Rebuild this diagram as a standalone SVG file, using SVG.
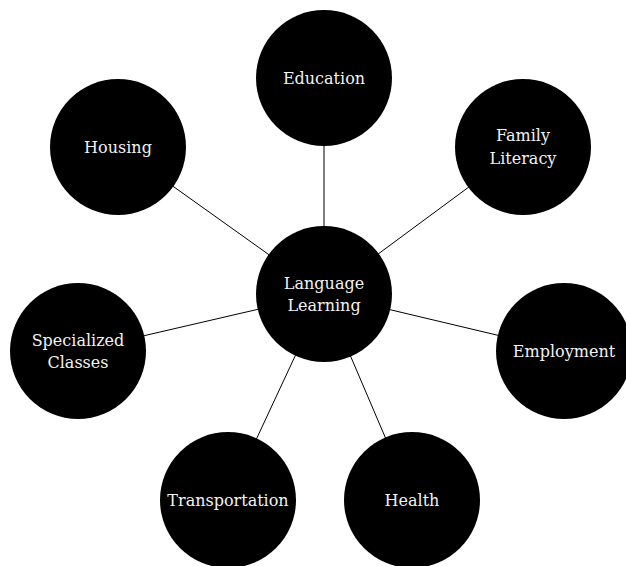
<svg xmlns="http://www.w3.org/2000/svg" width="626" height="566" viewBox="0 0 626 566">
<style>
.n{fill:#000}
.t{fill:#f2f2f2;font-family:"DejaVu Serif","Liberation Serif",serif;font-size:16px;text-anchor:middle}
.c line{stroke:#000;stroke-width:1}
</style>
<rect width="626" height="566" fill="#fff"/>
<g class="c" id="connectors">
<line x1="324" y1="294" x2="324" y2="78"/>
<line x1="324" y1="294" x2="523" y2="147"/>
<line x1="324" y1="294" x2="118" y2="147"/>
<line x1="324" y1="294" x2="78" y2="351"/>
<line x1="324" y1="294" x2="564" y2="351"/>
<line x1="324" y1="294" x2="228" y2="500"/>
<line x1="324" y1="294" x2="412" y2="500"/>
</g>
<g id="language-learning"><circle class="n" cx="324" cy="294" r="68"/><text class="t" x="324" y="288.5">Language</text><text class="t" x="324" y="311">Learning</text></g>
<g id="education"><circle class="n" cx="324" cy="78" r="68"/><text class="t" x="324" y="83.5">Education</text></g>
<g id="family-literacy"><circle class="n" cx="523" cy="147" r="68"/><text class="t" x="523" y="141">Family</text><text class="t" x="523" y="164">Literacy</text></g>
<g id="housing"><circle class="n" cx="118" cy="147" r="68"/><text class="t" x="118" y="152.5">Housing</text></g>
<g id="specialized-classes"><circle class="n" cx="78" cy="351" r="68"/><text class="t" x="78" y="345.5">Specialized</text><text class="t" x="78" y="368">Classes</text></g>
<g id="employment"><circle class="n" cx="564" cy="351" r="68"/><text class="t" x="564" y="356.5">Employment</text></g>
<g id="transportation"><circle class="n" cx="228" cy="500" r="68"/><text class="t" x="228" y="505.5">Transportation</text></g>
<g id="health"><circle class="n" cx="412" cy="500" r="68"/><text class="t" x="412" y="505.5">Health</text></g>
</svg>
